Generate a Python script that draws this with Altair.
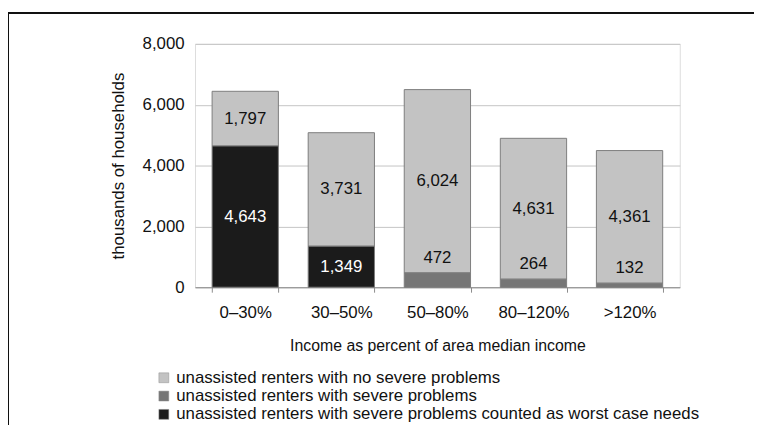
import altair as alt
import pandas as pd

categories = ["0–30%", "30–50%", "50–80%", "80–120%", ">120%"]
series_names = [
    "unassisted renters with no severe problems",
    "unassisted renters with severe problems",
    "unassisted renters with severe problems counted as worst case needs",
]
no_severe = [1797, 3731, 6024, 4631, 4361]
severe = [0, 0, 472, 264, 132]
worst_case = [4643, 1349, 0, 0, 0]
y_ticks = [0, 2000, 4000, 6000, 8000]

colors = ["#c3c3c3", "#767676", "#1b1b1b"]
FONT = "Liberation Sans"

rows = []
for i, c in enumerate(categories):
    for s_idx, vals in enumerate([no_severe, severe, worst_case]):
        v = vals[i]
        if v > 0:
            rows.append({"category": c, "series": series_names[s_idx], "value": v,
                         "order": 2 - s_idx})
df = pd.DataFrame(rows)

base = alt.Chart(df).transform_stack(
    stack="value", groupby=["category"], as_=["y0", "y1"],
    sort=[alt.SortField("order", order="ascending")]
).transform_calculate(
    mid="(datum.y0 + datum.y1) / 2",
    label="format(datum.value, ',')"
)

x_axis = alt.Axis(title="Income as percent of area median income",
                  labelAngle=0, tickBand="extent",
                  domainColor="#8c8c8c", tickColor="#8c8c8c",
                  tickSize=5, labelPadding=13, titlePadding=17,
                  labelFontSize=17, titleFontSize=16,
                  labelColor="#111", titleColor="#111",
                  titleFontWeight="normal")
x_scale = alt.Scale(paddingInner=0.31, paddingOuter=0.178)

y_scale = alt.Scale(domain=[0, 8000])
y_axis = alt.Axis(title="thousands of households", values=y_ticks,
                  labelExpr="format(datum.value, ',')",
                  domain=False, ticks=False,
                  gridColor="#c4c4c4", labelPadding=11, titlePadding=15,
                  labelFontSize=17, titleFontSize=17,
                  labelColor="#111", titleColor="#111",
                  titleFontWeight="normal")

bars = base.mark_bar(stroke="#7d7d7d", strokeWidth=1).encode(
    x=alt.X("category:N", sort=categories, scale=x_scale, axis=x_axis),
    y=alt.Y("y0:Q", scale=y_scale, axis=y_axis),
    y2="y1:Q",
    color=alt.Color("series:N", sort=series_names,
                    scale=alt.Scale(domain=series_names, range=colors),
                    legend=alt.Legend(title=None, orient="none", legendX=-40, legendY=329,
                                      symbolType="square", symbolSize=100,
                                      symbolStrokeColor="#8c8c8c", symbolStrokeWidth=0.5,
                                      labelFontSize=17, labelColor="#111",
                                      rowPadding=0.5, labelOffset=4, labelLimit=700)),
)

big_labels = base.transform_filter("datum.value >= 1000").mark_text(
    fontSize=17, font=FONT, baseline="middle"
).encode(
    x=alt.X("category:N", sort=categories, scale=x_scale, axis=x_axis),
    y=alt.Y("mid:Q", scale=y_scale, axis=y_axis),
    text="label:N",
    color=alt.condition(f"datum.series == '{series_names[2]}'",
                        alt.value("white"), alt.value("#111")),
)

small_labels = base.transform_filter("datum.value < 1000").mark_text(
    fontSize=17, font=FONT, baseline="middle", dy=-15
).encode(
    x=alt.X("category:N", sort=categories, scale=x_scale, axis=x_axis),
    y=alt.Y("y1:Q", scale=y_scale, axis=y_axis),
    text="label:N",
    color=alt.value("#111"),
)

frame_top = alt.Chart(df).mark_rule(color="#111", strokeWidth=1.5, clip=False).encode(
    x=alt.value(-189), x2=alt.value(565), y=alt.value(-31)
)
frame_left = alt.Chart(df).mark_rule(color="#111", strokeWidth=1.5, clip=False).encode(
    x=alt.value(-189), y=alt.value(-31), y2=alt.value(400)
)

chart = alt.layer(bars, big_labels, small_labels, frame_top, frame_left).properties(
    width=490, height=246,
    autosize=alt.AutoSizeParams(type="none"),
    padding={"left": 189, "top": 34, "right": 75, "bottom": 137},
).configure_view(stroke=None).configure(
    font=FONT
)

chart.save("out.html", embed_options={"renderer": "svg", "actions": False})
